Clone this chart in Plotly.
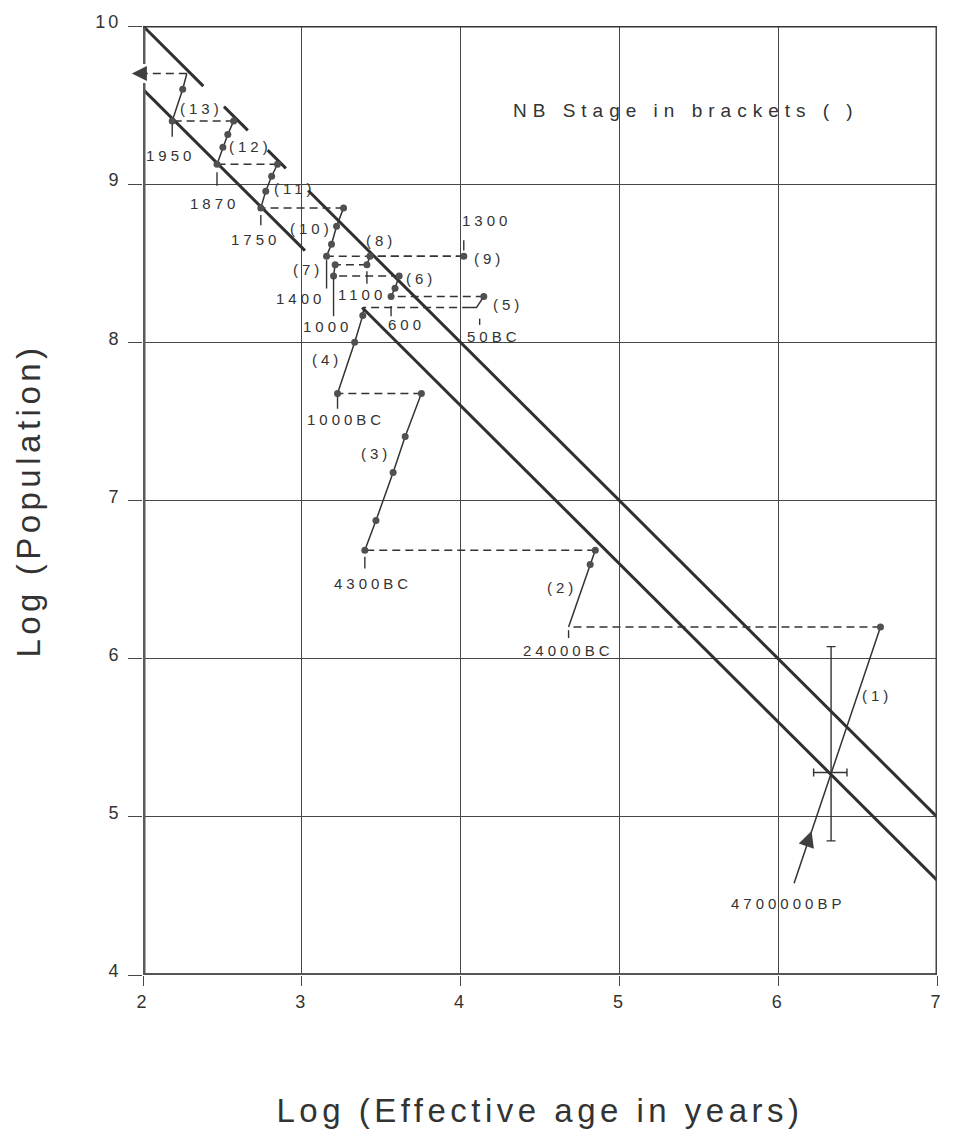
import plotly.graph_objects as go

# ---------------- data ----------------
x_ticks = [2, 3, 4, 5, 6, 7]
y_ticks = [4, 5, 6, 7, 8, 9, 10]

# the two diagonal reference lines (broken where the stage labels sit)
upper_x = [2.00, 2.38, None, 2.51, 2.66, None, 2.785, 2.90, None, 3.04, 7.00]
upper_y = [10.00, 9.62, None, 9.49, 9.34, None, 9.215, 9.10, None, 8.96, 5.00]
lower_x = [2.00, 3.02, None, 3.38, 7.00]
lower_y = [9.60, 8.58, None, 8.22, 4.60]

# stages (1)..(13): solid path points and which points carry a dot
stage_labels = ["(1)", "(2)", "(3)", "(4)", "(5)", "(6)", "(7)",
                "(8)", "(9)", "(10)", "(11)", "(12)", "(13)"]
stage_x = [
    [6.10, 6.644],
    [4.68, 4.816, 4.848],
    [3.397, 3.467, 3.575, 3.651, 3.753],
    [3.225, 3.333, 3.384, 3.39],
    [4.06, 4.10, 4.146],
    [3.562, 3.587, 3.613],
    [3.20, 3.21],
    [3.41, 3.429],
    [4.02],
    [3.156, 3.187, 3.219, 3.263],
    [2.742, 2.773, 2.81, 2.847],
    [2.466, 2.503, 2.534, 2.571],
    [2.184, 2.25, 2.276],
]
stage_y = [
    [4.58, 6.20],
    [6.20, 6.595, 6.685],
    [6.685, 6.873, 7.177, 7.405, 7.677],
    [7.677, 8.00, 8.17, 8.22],
    [8.22, 8.22, 8.29],
    [8.29, 8.342, 8.42],
    [8.42, 8.49],
    [8.49, 8.545],
    [8.545],
    [8.545, 8.62, 8.734, 8.85],
    [8.85, 8.956, 9.05, 9.126],
    [9.126, 9.233, 9.314, 9.40],
    [9.40, 9.60, 9.70],
]
stage_dot = [
    [0, 1], [0, 1, 1], [1, 1, 1, 1, 1], [1, 1, 1, 0], [0, 0, 1],
    [1, 1, 1], [1, 1], [1, 1], [1], [1, 1, 1, 1], [1, 1, 1, 1],
    [1, 1, 1, 1], [1, 1, 0],
]
stage_lab_x = [6.625, 4.64, 3.47, 3.16, 4.30, 3.75, 3.04, 3.50, 4.18, 3.06, 2.96, 2.675, 2.37]
stage_lab_y = [5.77, 6.45, 7.30, 7.89, 8.24, 8.405, 8.46, 8.645, 8.53, 8.72, 8.975, 9.24, 9.48]

# arrow ends
final_arrow = (1.93, 9.70)        # stage 13 continues off the chart
start_arrow = (6.21, 4.91)        # 4 700 000 BP pointer on stage 1

# dates at stage starts
date_text = ["4700000BP", "24000BC", "4300BC", "1000BC", "50BC", "600", "1000",
             "1100", "1300", "1400", "1750", "1870", "1950"]
date_x = [6.06, 4.68, 3.45, 3.28, 4.21, 3.66, 3.16, 3.38, 4.165, 2.99, 2.71, 2.45, 2.17]
date_y = [4.45, 6.05, 6.475, 7.51, 8.04, 8.11, 8.10, 8.30, 8.77, 8.28, 8.65, 8.88, 9.18]

# small marker ticks joining dates to their points
tick_x = [4.68, 3.397, 3.225, 4.12, 3.562, 3.20, 3.41, 4.02, 3.156, 2.742, 2.466, 2.184]
tick_y0 = [6.18, 6.645, 7.66, 8.15, 8.23, 8.405, 8.45, 8.58, 8.52, 8.805, 9.075, 9.38]
tick_y1 = [6.13, 6.57, 7.58, 8.11, 8.165, 8.165, 8.37, 8.645, 8.34, 8.74, 8.99, 9.30]

# error cross on stage 1
err_x, err_y = [6.333], [5.28]
err_x_minus, err_x_plus = [0.11], [0.10]
err_y_minus, err_y_plus = [0.432], [0.796]

note_text = "NB Stage in brackets ( )"
x_title = "Log (Effective age in years)"
y_title = "Log (Population)"

# ---------------- styling ----------------
INK = "#333333"
GRID = "#474747"
FONT = "Liberation Sans, Arial, Helvetica, sans-serif"

fig = go.Figure()

# diagonal lines
fig.add_trace(go.Scatter(x=upper_x, y=upper_y, mode="lines", connectgaps=False,
                         line=dict(color="#303030", width=3), hoverinfo="skip"))
fig.add_trace(go.Scatter(x=lower_x, y=lower_y, mode="lines", connectgaps=False,
                         line=dict(color="#303030", width=3), hoverinfo="skip"))

# dashed connectors: end of one stage to start of the next (drawn from the right end)
dx, dy = [], []
for i in range(len(stage_x) - 1):
    p = (stage_x[i][-1], stage_y[i][-1])
    q = (stage_x[i + 1][0], stage_y[i + 1][0])
    a, b = (p, q) if p[0] >= q[0] else (q, p)
    dx += [a[0], b[0], None]
    dy += [a[1], b[1], None]
dx += [stage_x[-1][-1], 2.0, None]
dy += [stage_y[-1][-1], final_arrow[1], None]
fig.add_trace(go.Scatter(x=dx, y=dy, mode="lines", connectgaps=False,
                         line=dict(color=INK, width=1.5, dash="8px,5px"), hoverinfo="skip"))

# solid stage paths
sx, sy = [], []
for xs, ys in zip(stage_x, stage_y):
    sx += xs + [None]
    sy += ys + [None]
fig.add_trace(go.Scatter(x=sx, y=sy, mode="lines", connectgaps=False,
                         line=dict(color=INK, width=1.5), hoverinfo="skip"))

# dots
px_, py_ = [], []
for xs, ys, ds in zip(stage_x, stage_y, stage_dot):
    for a, b, d in zip(xs, ys, ds):
        if d:
            px_.append(a)
            py_.append(b)
fig.add_trace(go.Scatter(x=px_, y=py_, mode="markers",
                         marker=dict(color="#505050", size=7), hoverinfo="skip"))

# date ticks
tx, ty = [], []
for a, b0, b1 in zip(tick_x, tick_y0, tick_y1):
    tx += [a, a, None]
    ty += [b0, b1, None]
fig.add_trace(go.Scatter(x=tx, y=ty, mode="lines", connectgaps=False,
                         line=dict(color=INK, width=1.4), hoverinfo="skip"))

# error cross
fig.add_trace(go.Scatter(
    x=err_x, y=err_y, mode="markers", marker=dict(size=1, color="rgba(0,0,0,0)"),
    error_x=dict(type="data", symmetric=False, array=err_x_plus, arrayminus=err_x_minus,
                 width=4, thickness=1.4, color=INK),
    error_y=dict(type="data", symmetric=False, array=err_y_plus, arrayminus=err_y_minus,
                 width=4.5, thickness=1.4, color=INK),
    hoverinfo="skip"))

# arrow head on stage 1
fig.add_trace(go.Scatter(x=[start_arrow[0]], y=[start_arrow[1]], mode="markers",
                         cliponaxis=False,
                         marker=dict(symbol="arrow-up", size=16, angle=19, color="#404040"),
                         hoverinfo="skip"))

annotations = []
for t, a, b in zip(date_text, date_x, date_y):
    annotations.append(dict(x=a, y=b, text=t, showarrow=False, xanchor="center",
                            yanchor="middle", font=dict(size=15, color=INK, family=FONT)))
for t, a, b in zip(stage_labels, stage_lab_x, stage_lab_y):
    annotations.append(dict(x=a, y=b, text=t, showarrow=False, xanchor="center",
                            yanchor="middle", font=dict(size=15, color=INK, family=FONT)))
annotations.append(dict(x=0.684, y=0.911, xref="paper", yref="paper", text=note_text,
                        showarrow=False, xanchor="center", yanchor="middle",
                        font=dict(size=19, color=INK, family=FONT)))
# arrow head pointing off the chart at the top left
annotations.append(dict(x=final_arrow[0], y=final_arrow[1], xref="x", yref="y",
                        ax=2.03, ay=final_arrow[1], axref="x", ayref="y",
                        text="", showarrow=True, arrowhead=2, arrowsize=2,
                        arrowwidth=1.5, arrowcolor="#404040"))

shapes = [
    dict(type="line", xref="x", yref="y", x0=2, x1=2, y0=4, y1=9.64,
         line=dict(color="#5a5a5a", width=5), layer="above"),
    dict(type="line", xref="x", yref="y", x0=2, x1=2, y0=9.76, y1=10,
         line=dict(color="#5a5a5a", width=5), layer="above"),
    dict(type="line", xref="x", yref="y", x0=2, x1=7, y0=4, y1=4,
         line=dict(color="#555555", width=4), layer="above"),
    dict(type="line", xref="x", yref="y", x0=2, x1=7, y0=10, y1=10,
         line=dict(color="#333333", width=3), layer="above"),
    dict(type="line", xref="x", yref="y", x0=7, x1=7, y0=4, y1=10,
         line=dict(color="#444444", width=3), layer="above"),
]

fig.update_layout(
    width=954, height=1135,
    margin=dict(l=143, r=12, t=26, b=160),
    plot_bgcolor="white", paper_bgcolor="white",
    showlegend=False,
    font=dict(family=FONT, color=INK),
    annotations=annotations,
    shapes=shapes,
    xaxis=dict(range=[2, 7], tickvals=x_ticks, showgrid=True, gridcolor=GRID, gridwidth=1.2,
               zeroline=False, showline=False, ticks="outside", ticklen=10, tickwidth=1.2,
               tickcolor=GRID, tickfont=dict(size=18, color=INK, family=FONT),
               title=dict(text=x_title, font=dict(size=33, color=INK, family=FONT), standoff=88)),
    yaxis=dict(range=[4, 10], tickvals=y_ticks, showgrid=True, gridcolor=GRID, gridwidth=1.2,
               zeroline=False, showline=False, ticks="outside", ticklen=14, tickwidth=1.2,
               tickcolor=GRID, tickfont=dict(size=18, color=INK, family=FONT),
               ticklabelshift=-4, ticklabelstandoff=3,
               title=dict(text=y_title, font=dict(size=33, color=INK, family=FONT), standoff=50)),
)

post = """
var st = document.createElement('style');
st.textContent = '.annotation-text{letter-spacing:4px}.xtitle,.ytitle{letter-spacing:4.5px}.xtick text,.ytick text{letter-spacing:3px}';
document.head.appendChild(st);
document.querySelectorAll('.annotation-text').forEach(function(t){
  if (t.textContent.indexOf('NB') === 0) { t.style.letterSpacing = '6px'; }
});
"""

fig.write_html("out.html", post_script=post)
